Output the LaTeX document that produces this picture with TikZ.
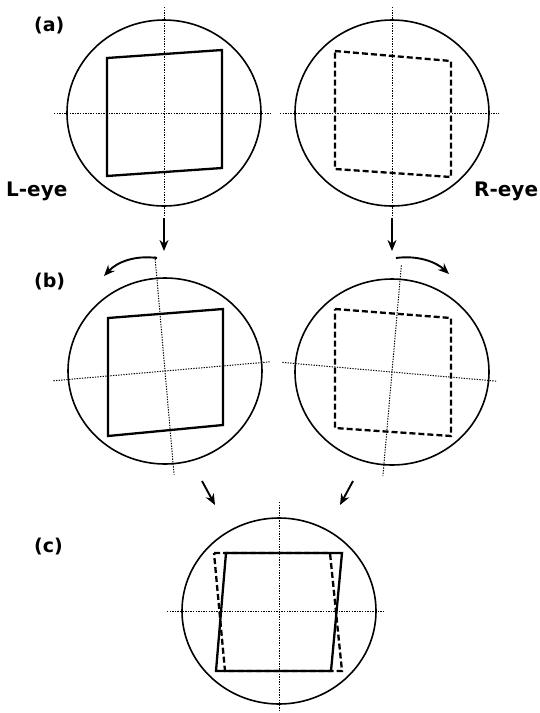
\documentclass[tikz,border=0pt]{standalone}
\usepackage{fontspec}
\setsansfont{DejaVu Sans}
\usetikzlibrary{arrows.meta, calc}

\begin{document}
\begin{tikzpicture}[
    x=1pt, y=-1pt,
    eye style/.style={line width=1.6pt},
    axis style/.style={line width=1pt, dash pattern=on 1.3pt off 1.3pt},
    solid frame/.style={line width=2.3pt, line join=miter},
    dashed frame/.style={line width=2.3pt, dash pattern=on 6pt off 3pt},
    arrow style/.style={line width=1.9pt, -{Stealth[length=11pt, width=9pt]}},
    panel label/.style={font=\sffamily\bfseries\fontsize{19}{19}\selectfont, anchor=base west, inner sep=0pt},
    eye label/.style={font=\sffamily\bfseries\fontsize{20}{20}\selectfont, anchor=base west, inner sep=0pt}
]

\useasboundingbox (0,0) rectangle (540,713);

% Radii of the eye circles
\def\rx{97}
\def\ry{93}

% Centres of the eyes
\coordinate (La) at (164,113);
\coordinate (Ra) at (392,113);
\coordinate (Lb) at (165,371);
\coordinate (Rb) at (392,372);
\coordinate (C)  at (279,611);

% Labels
\node[panel label] (a) at (34,31)  {(a)};
\node[panel label] (b) at (34,287) {(b)};
\node[panel label] (c) at (34,552) {(c)};
\node[eye label] (leye) at (6,196)   {L-eye};
\node[eye label] (reye) at (474,196) {R-eye};

% (a) left eye
\draw[eye style] (La) ellipse [x radius=\rx, y radius=\ry];
\begin{scope}[shift={(La)}]
  \draw[axis style] (0,-106) -- (0,104);
  \draw[axis style] (-110,0) -- (106,0);
  \draw[solid frame] (-57,-55) -- (58,-63) -- (58,55) -- (-57,63) -- cycle;
\end{scope}

% (a) right eye
\draw[eye style] (Ra) ellipse [x radius=\rx, y radius=\ry];
\begin{scope}[shift={(Ra)}]
  \draw[axis style] (0,-106) -- (0,110);
  \draw[axis style] (-112,0) -- (107,0);
  \draw[dashed frame] (-57,-62) -- (59,-52) -- (59,64) -- (-57,56) -- cycle;
\end{scope}

% (b) left eye, axes turned
\draw[eye style] (Lb) ellipse [x radius=\rx, y radius=\ry];
\begin{scope}[shift={(Lb)}]
  \draw[solid frame] (-57,-53) -- (58,-62) -- (58,54) -- (-57,65) -- cycle;
  \begin{scope}[rotate=5]
    \draw[axis style] (0,-115) -- (0,104);
    \draw[axis style] (-112,0) -- (106,0);
  \end{scope}
\end{scope}

% (b) right eye, axes turned
\draw[eye style] (Rb) ellipse [x radius=\rx, y radius=\ry];
\begin{scope}[shift={(Rb)}]
  \draw[dashed frame] (-57,-63) -- (59,-54) -- (59,64) -- (-57,56) -- cycle;
  \begin{scope}[rotate=-5]
    \draw[axis style] (0,-107) -- (0,104);
    \draw[axis style] (-110,0) -- (105,0);
  \end{scope}
\end{scope}

% (c) fused view
\draw[eye style] (C) ellipse [x radius=\rx, y radius=\ry];
\begin{scope}[shift={(C)}]
  \draw[axis style] (0,-109) -- (0,102);
  \draw[axis style] (-112,0) -- (106,0);
  \draw[dashed frame] (-65,-58) -- (51,-58) -- (63,60) -- (-54,60) -- cycle;
  \draw[solid frame] (-53,-58) -- (63,-58) -- (52,60) -- (-63,60) -- cycle;
\end{scope}

% Arrows
\coordinate (ld1) at (164,218);
\coordinate (ld2) at (164,251);
\coordinate (rd1) at (392,218);
\coordinate (rd2) at (392,251);
\draw[arrow style] (ld1) -- (ld2);
\draw[arrow style] (rd1) -- (rd2);

\coordinate (lt1) at (157,258);
\coordinate (lt2) at (104,276);
\coordinate (rt1) at (396,258);
\coordinate (rt2) at (449,274);
\draw[arrow style] (lt1) .. controls (135,255) and (117,262) .. (lt2);
\draw[arrow style] (rt1) .. controls (418,255) and (436,262) .. (rt2);

\coordinate (lc1) at (202,481);
\coordinate (lc2) at (215,505);
\coordinate (rc1) at (353,481);
\coordinate (rc2) at (340,505);
\draw[arrow style] (lc1) -- (lc2);
\draw[arrow style] (rc1) -- (rc2);

\end{tikzpicture}
\end{document}
